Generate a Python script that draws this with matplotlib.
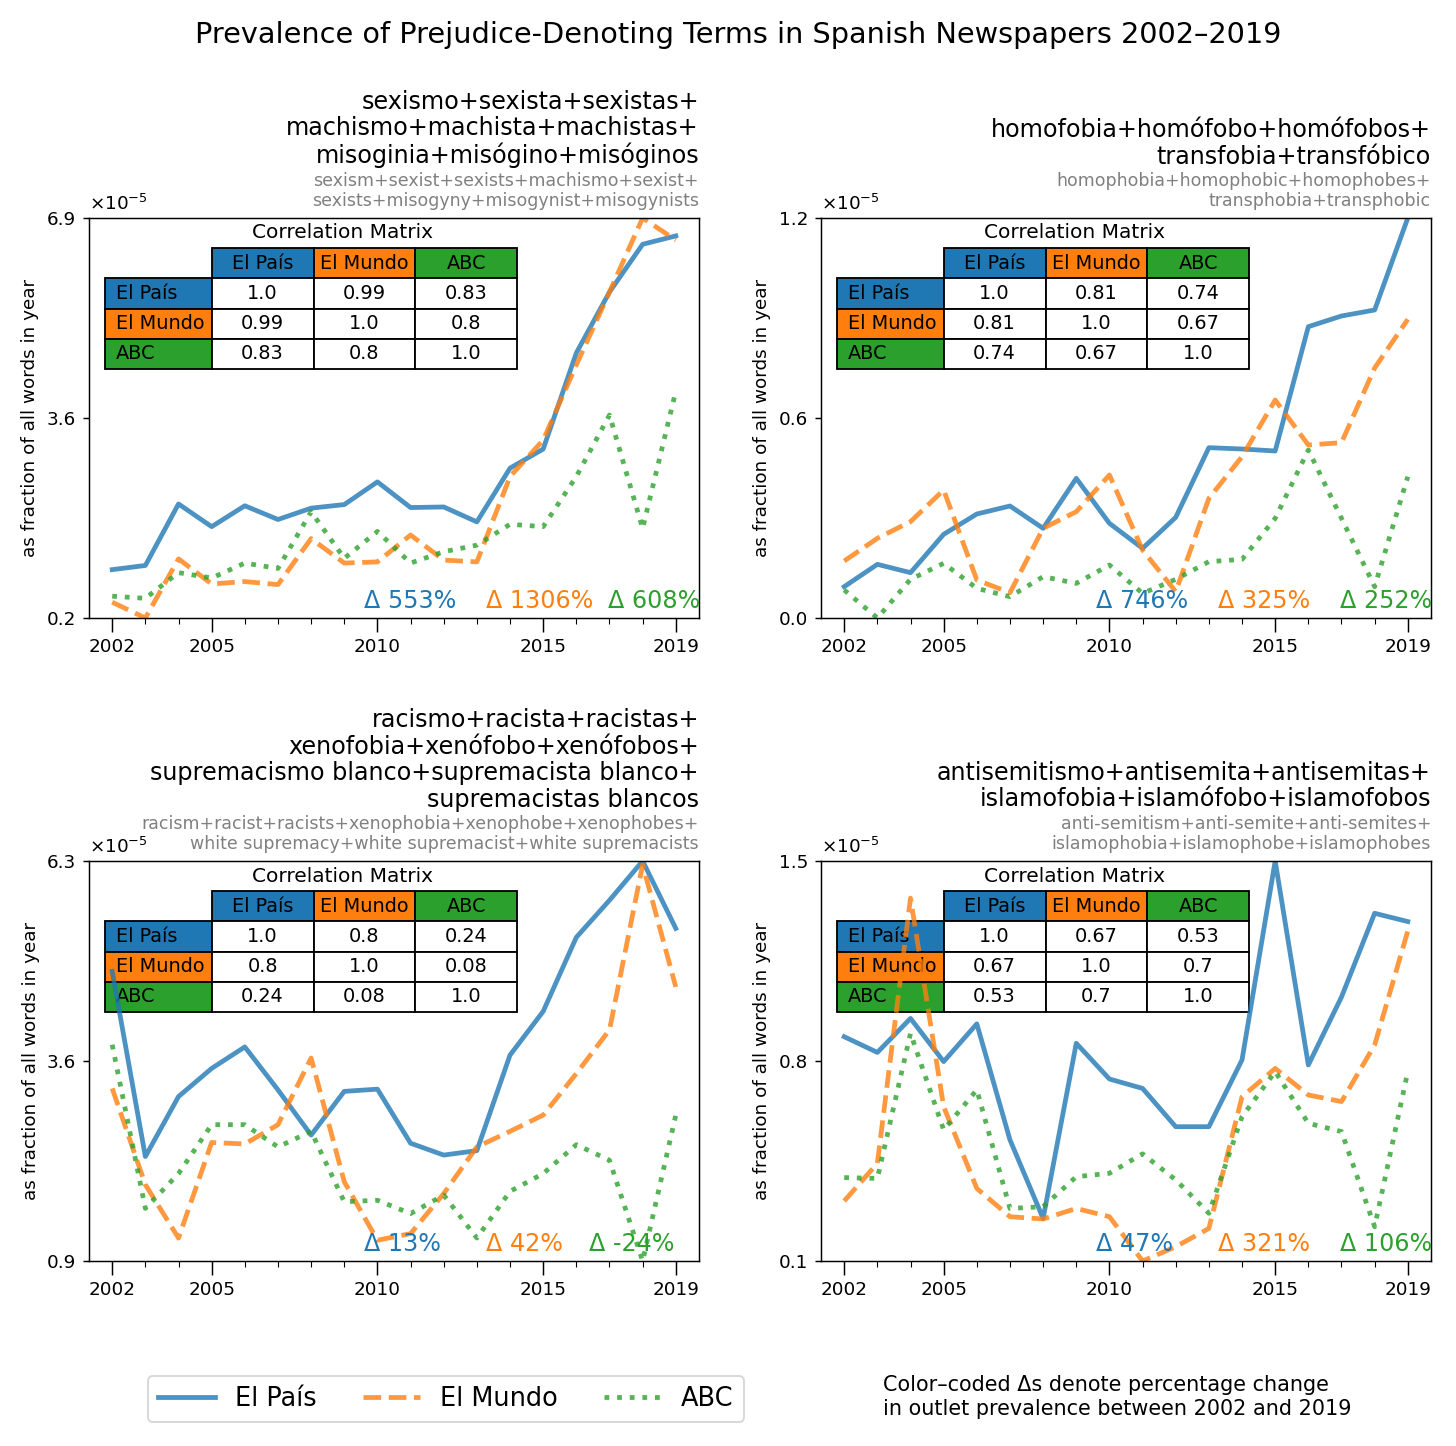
import matplotlib
matplotlib.use("Agg")
import matplotlib.pyplot as plt

# values in units of 1e-5 (fraction of all words in year)
years = list(range(2002, 2020))
outlets = ["El País", "El Mundo", "ABC"]
colors = ["tab:blue", "tab:orange", "tab:green"]
styles = ["-", "--", ":"]

sexism_pais = [1.01, 1.08, 2.11, 1.73, 2.08, 1.85, 2.04, 2.10, 2.48, 2.05, 2.06, 1.81, 2.71, 3.03, 4.64, 5.66, 6.46, 6.60]
sexism_mundo = [0.465, 0.2, 1.19, 0.77, 0.81, 0.76, 1.53, 1.12, 1.14, 1.59, 1.17, 1.14, 2.57, 3.18, 4.44, 5.66, 6.9, 6.53]
sexism_abc = [0.565, 0.53, 0.96, 0.87, 1.12, 1.03, 1.98, 1.20, 1.65, 1.12, 1.31, 1.42, 1.77, 1.73, 2.57, 3.60, 1.70, 4.0]

homo_pais = [0.094, 0.161, 0.136, 0.251, 0.312, 0.336, 0.269, 0.419, 0.284, 0.209, 0.302, 0.511, 0.507, 0.501, 0.874, 0.906, 0.924, 1.2]
homo_mundo = [0.171, 0.239, 0.289, 0.384, 0.114, 0.076, 0.269, 0.319, 0.429, 0.204, 0.079, 0.359, 0.484, 0.654, 0.519, 0.526, 0.75, 0.896]
homo_abc = [0.084, 0.0, 0.116, 0.164, 0.089, 0.064, 0.124, 0.104, 0.159, 0.074, 0.116, 0.169, 0.176, 0.299, 0.504, 0.299, 0.094, 0.424]

racism_pais = [4.81, 2.31, 3.12, 3.50, 3.79, 3.21, 2.60, 3.19, 3.22, 2.49, 2.33, 2.39, 3.68, 4.27, 5.27, 5.77, 6.3, 5.39]
racism_mundo = [3.23, 1.93, 1.21, 2.50, 2.48, 2.74, 3.64, 1.97, 1.18, 1.27, 1.81, 2.44, 2.65, 2.87, 3.43, 4.02, 6.25, 4.60]
racism_abc = [3.82, 1.61, 2.08, 2.74, 2.74, 2.44, 2.65, 1.70, 1.72, 1.54, 1.79, 1.21, 1.84, 2.08, 2.47, 2.26, 0.9, 2.87]

anti_pais = [0.885, 0.830, 0.949, 0.798, 0.930, 0.524, 0.249, 0.862, 0.737, 0.704, 0.570, 0.570, 0.804, 1.5, 0.786, 1.024, 1.317, 1.288]
anti_mundo = [0.31, 0.442, 1.37, 0.64, 0.354, 0.255, 0.247, 0.284, 0.255, 0.1, 0.150, 0.214, 0.675, 0.774, 0.681, 0.658, 0.856, 1.255]
anti_abc = [0.392, 0.389, 0.897, 0.559, 0.699, 0.284, 0.290, 0.395, 0.407, 0.475, 0.384, 0.267, 0.605, 0.763, 0.582, 0.553, 0.220, 0.763]

corr_sexism = [[1.0, 0.99, 0.83], [0.99, 1.0, 0.8], [0.83, 0.8, 1.0]]
corr_homo = [[1.0, 0.81, 0.74], [0.81, 1.0, 0.67], [0.74, 0.67, 1.0]]
corr_racism = [[1.0, 0.8, 0.24], [0.8, 1.0, 0.08], [0.24, 0.08, 1.0]]
corr_anti = [[1.0, 0.67, 0.53], [0.67, 1.0, 0.7], [0.53, 0.7, 1.0]]

delta_sexism = [553, 1306, 608]
delta_homo = [746, 325, 252]
delta_racism = [13, 42, -24]
delta_anti = [47, 321, 106]

titles_es = [
    "sexismo+sexista+sexistas+\nmachismo+machista+machistas+\nmisoginia+misógino+misóginos",
    "homofobia+homófobo+homófobos+\ntransfobia+transfóbico",
    "racismo+racista+racistas+\nxenofobia+xenófobo+xenófobos+\nsupremacismo blanco+supremacista blanco+\nsupremacistas blancos",
    "antisemitismo+antisemita+antisemitas+\nislamofobia+islamófobo+islamofobos",
]
titles_en = [
    "sexism+sexist+sexists+machismo+sexist+\nsexists+misogyny+misogynist+misogynists",
    "homophobia+homophobic+homophobes+\ntransphobia+transphobic",
    "racism+racist+racists+xenophobia+xenophobe+xenophobes+\nwhite supremacy+white supremacist+white supremacists",
    "anti-semitism+anti-semite+anti-semites+\nislamophobia+islamophobe+islamophobes",
]

panels = [
    ([sexism_pais, sexism_mundo, sexism_abc], corr_sexism, delta_sexism),
    ([homo_pais, homo_mundo, homo_abc], corr_homo, delta_homo),
    ([racism_pais, racism_mundo, racism_abc], corr_racism, delta_racism),
    ([anti_pais, anti_mundo, anti_abc], corr_anti, delta_anti),
]
delta_x = [[0.45, 0.65, 0.85], [0.45, 0.65, 0.85], [0.45, 0.65, 0.82], [0.45, 0.65, 0.85]]

W, H = 1456, 1446
DPI = 132
fig = plt.figure(figsize=(W / DPI, H / DPI), dpi=DPI)

# axes boxes in pixels: left, top, right, bottom
boxes = [(89, 218, 699, 618), (821, 218, 1431, 618),
         (89, 861, 699, 1261), (821, 861, 1431, 1261)]

handles = []
for i, (series, corr, deltas) in enumerate(panels):
    l, t, r, b = boxes[i]
    ax = fig.add_axes([l / W, 1 - b / H, (r - l) / W, (b - t) / H])
    for k in range(3):
        ln, = ax.plot(years, series[k], color=colors[k], ls=styles[k], lw=2.6, alpha=0.8)
        if i == 0:
            handles.append(ln)

    lo = min(min(s) for s in series)
    hi = max(max(s) for s in series)
    ax.set_ylim(lo, hi)
    ticks = [lo, (lo + hi) / 2, hi]
    ax.set_yticks(ticks, [f"{v:.1f}" for v in ticks])
    ax.annotate(r"$\times10^{-5}$", xy=(0, 1), xycoords="axes fraction",
                xytext=(0, 2), textcoords="offset points", ha="left", va="bottom", fontsize=10)
    ax.set_ylabel("as fraction of all words in year", fontsize=10)

    ax.set_xlim(2001.3, 2019.7)
    ax.set_xticks([2002, 2005, 2010, 2015, 2019], ["2002", "2005", "2010", "2015", "2019"])
    ax.set_xticks(years, minor=True)
    ax.tick_params(axis="x", which="major", length=7.5)
    ax.tick_params(axis="x", which="minor", length=3.5)

    # titles
    ax.annotate(titles_en[i], xy=(1, 1), xycoords="axes fraction", xytext=(0, 4.5),
                textcoords="offset points", ha="right", va="bottom", fontsize=9.5,
                color="grey", linespacing=1.1)
    ax.annotate(titles_es[i], xy=(1, 1), xycoords="axes fraction", xytext=(0, 27),
                textcoords="offset points", ha="right", va="bottom", fontsize=13,
                linespacing=1.13)

    # correlation table: first column holds the row labels
    cells = [[outlets[rr]] + [str(v) for v in corr[rr]] for rr in range(3)]
    cell_colours = [[colors[rr], "w", "w", "w"] for rr in range(3)]
    tbl = ax.table(cellText=cells, cellColours=cell_colours,
                   colLabels=[""] + outlets, colColours=["w"] + colors,
                   cellLoc="center", colWidths=[0.107, 0.102, 0.102, 0.102],
                   bbox=[0.026, 0.6225, 0.676, 0.3025])
    tbl[0, 0].set_visible(False)
    for rr in range(3):
        tbl[rr + 1, 0].get_text().set_horizontalalignment("left")
    tbl.auto_set_font_size(False)
    tbl.set_fontsize(10.5)
    ax.text(0.415, 0.9625, "Correlation Matrix", transform=ax.transAxes,
            ha="center", va="center", fontsize=11)

    for k in range(3):
        ax.text(delta_x[i][k], 0.025, f"Δ {deltas[k]}%", color=colors[k],
                transform=ax.transAxes, ha="left", va="baseline", fontsize=13)

fig.suptitle("Prevalence of Prejudice-Denoting Terms in Spanish Newspapers 2002–2019",
             x=0.507, y=1 - 35 / H, va="center", fontsize=15.7)

fig.legend(handles, outlets, loc="center", bbox_to_anchor=(446 / W, 1 - 1399 / H),
           ncol=3, fontsize=14, handlelength=2.2, columnspacing=1.8, handletextpad=0.8)

fig.text(883 / W, 1 - 1397 / H,
         "Color–coded Δs denote percentage change\nin outlet prevalence between 2002 and 2019",
         ha="left", va="center", fontsize=11.3)

fig.savefig("out.png", dpi=DPI)
